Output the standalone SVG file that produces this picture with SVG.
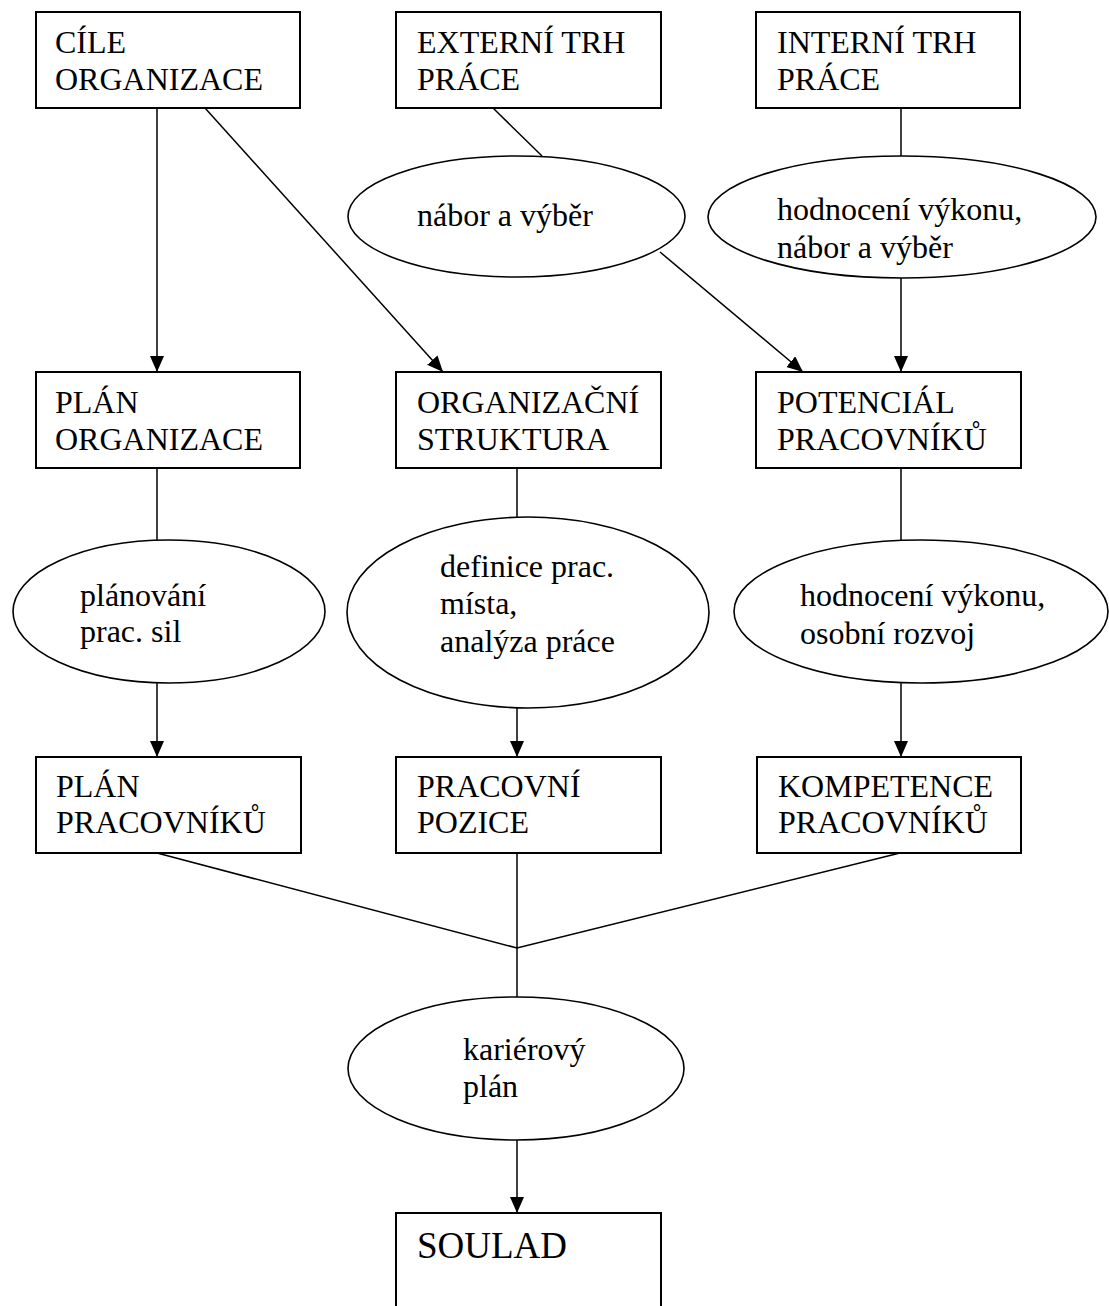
<svg xmlns="http://www.w3.org/2000/svg" width="1109" height="1306" viewBox="0 0 1109 1306">
<defs>
<style>
.box{fill:#fff;stroke:#000;stroke-width:2}
.ell{fill:#fff;stroke:#000;stroke-width:1.6}
.ln{fill:none;stroke:#000;stroke-width:1.5}
.arr{marker-end:url(#ah)}
</style>
<marker id="ah" markerUnits="userSpaceOnUse" markerWidth="18" markerHeight="16" refX="16" refY="7" orient="auto">
<path d="M0,0 L16,7 L0,14 z" fill="#000"/>
</marker>
</defs>
<rect width="1109" height="1306" fill="#fff"/>
<g id="connectors">
<line class="ln arr" x1="157" y1="108" x2="157" y2="372"/>
<line class="ln arr" x1="205" y1="108" x2="443" y2="372"/>
<line class="ln" x1="493" y1="108" x2="542" y2="156"/>
<line class="ln arr" x1="660" y1="252" x2="803" y2="372"/>
<line class="ln" x1="901" y1="108" x2="901" y2="156"/>
<line class="ln arr" x1="901" y1="278" x2="901" y2="372"/>
<line class="ln" x1="157" y1="468" x2="157" y2="540"/>
<line class="ln arr" x1="157" y1="683" x2="157" y2="757"/>
<line class="ln" x1="517" y1="468" x2="517" y2="517"/>
<line class="ln arr" x1="517" y1="708" x2="517" y2="757"/>
<line class="ln" x1="901" y1="468" x2="901" y2="540"/>
<line class="ln arr" x1="901" y1="683" x2="901" y2="757"/>
<polyline class="ln" points="157,853 517,948 900,853"/>
<line class="ln" x1="517" y1="853" x2="517" y2="997"/>
<line class="ln arr" x1="517" y1="1140" x2="517" y2="1213"/>
</g>
<g font-family="'Liberation Serif', 'Times New Roman', Times, 'DejaVu Serif', serif" font-size="32" fill="#000">
<g id="cile"><rect class="box" x="36" y="12" width="264" height="96"/><text x="55" y="53">CÍLE</text><text x="55" y="90">ORGANIZACE</text></g>
<g id="externi"><rect class="box" x="396" y="12" width="265" height="96"/><text x="417" y="53">EXTERNÍ TRH</text><text x="417" y="90">PRÁCE</text></g>
<g id="interni"><rect class="box" x="756" y="12" width="264" height="96"/><text x="777" y="53">INTERNÍ TRH</text><text x="777" y="90">PRÁCE</text></g>
<g id="nabor"><ellipse class="ell" cx="516.5" cy="216.5" rx="168.5" ry="60.5"/><text x="417" y="226">nábor a výběr</text></g>
<g id="hodnoceni1"><ellipse class="ell" cx="902" cy="217" rx="194" ry="61"/><text x="777" y="220">hodnocení výkonu,</text><text x="777" y="258">nábor a výběr</text></g>
<g id="plan-org"><rect class="box" x="36" y="372" width="264" height="96"/><text x="55" y="413">PLÁN</text><text x="55" y="450">ORGANIZACE</text></g>
<g id="org-struktura"><rect class="box" x="396" y="372" width="265" height="96"/><text x="417" y="413">ORGANIZAČNÍ</text><text x="417" y="450">STRUKTURA</text></g>
<g id="potencial"><rect class="box" x="756" y="372" width="265" height="96"/><text x="777" y="413">POTENCIÁL</text><text x="777" y="450">PRACOVNÍKŮ</text></g>
<g id="planovani"><ellipse class="ell" cx="169" cy="611.5" rx="156" ry="71.5"/><text x="80" y="606">plánování</text><text x="80" y="642">prac. sil</text></g>
<g id="definice"><ellipse class="ell" cx="528" cy="612.5" rx="181" ry="95.5"/><text x="440" y="577">definice prac.</text><text x="440" y="614">místa,</text><text x="440" y="652">analýza práce</text></g>
<g id="hodnoceni2"><ellipse class="ell" cx="921" cy="611.5" rx="187" ry="71.5"/><text x="800" y="606">hodnocení výkonu,</text><text x="800" y="644">osobní rozvoj</text></g>
<g id="plan-prac"><rect class="box" x="36" y="757" width="265" height="96"/><text x="56" y="797">PLÁN</text><text x="56" y="833">PRACOVNÍKŮ</text></g>
<g id="pozice"><rect class="box" x="396" y="757" width="265" height="96"/><text x="417" y="797">PRACOVNÍ</text><text x="417" y="833">POZICE</text></g>
<g id="kompetence"><rect class="box" x="757" y="757" width="264" height="96"/><text x="778" y="797">KOMPETENCE</text><text x="778" y="833">PRACOVNÍKŮ</text></g>
<g id="karierovy"><ellipse class="ell" cx="516" cy="1068.5" rx="168" ry="71.5"/><text x="463" y="1060">kariérový</text><text x="463" y="1097">plán</text></g>
<g id="soulad"><rect class="box" x="396" y="1213" width="265" height="140"/><text x="417" y="1258" font-size="37">SOULAD</text></g>
</g>
</svg>
